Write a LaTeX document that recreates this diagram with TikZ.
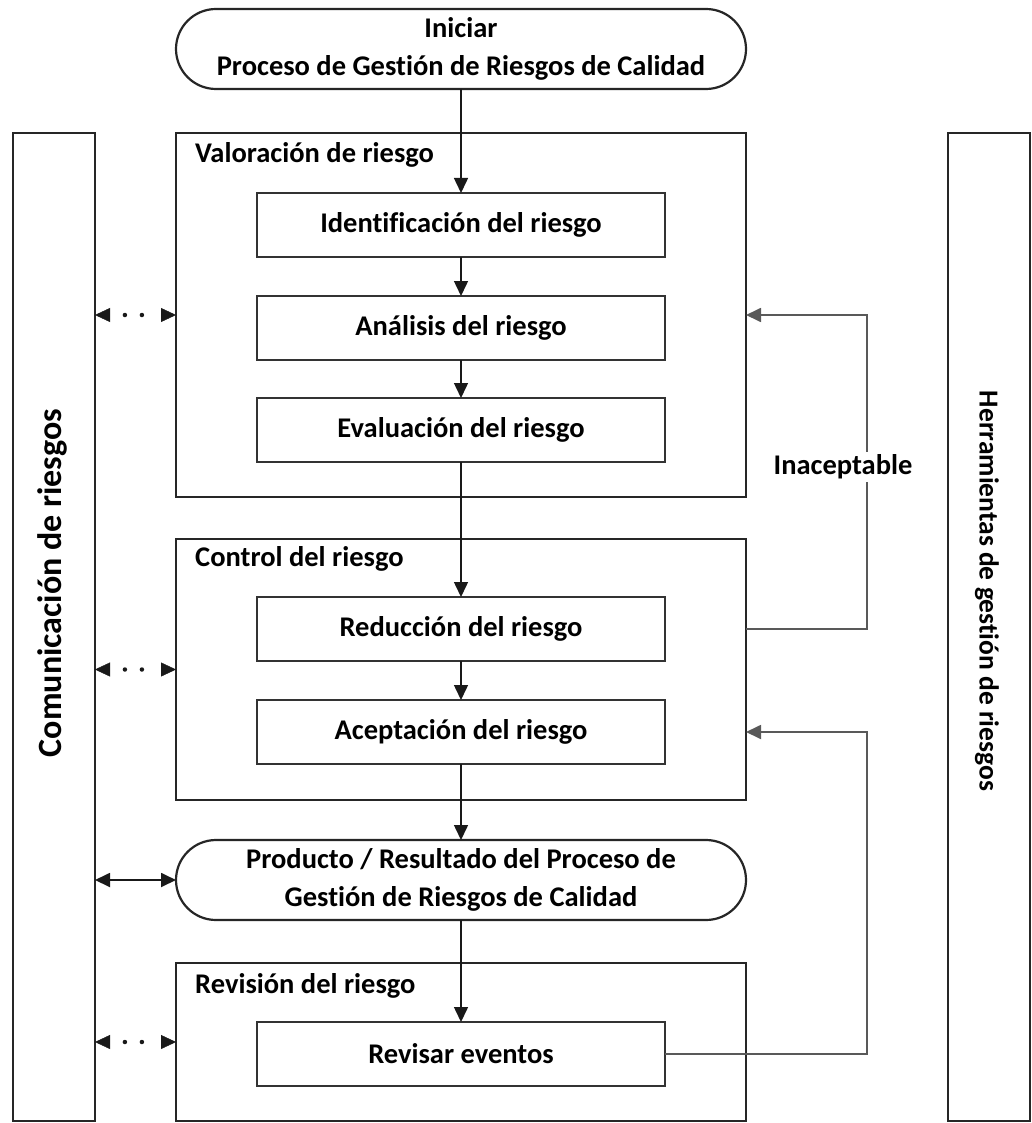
\documentclass[tikz,border=0pt]{standalone}
\usepackage{fontspec}
\setmainfont{Carlito}[Ligatures=NoCommon]
\usetikzlibrary{arrows.meta,calc}
\begin{document}
\begin{tikzpicture}[x=1pt,y=-1pt,
  txt/.style={font=\fontsize{28.5}{38}\selectfont\bfseries, inner sep=0pt},
  panel/.style={draw=black!85, line width=2.2pt, fill=white, inner sep=0pt, outer sep=0pt, minimum width=82pt, minimum height=988pt},
  bigbox/.style={draw=black!85, line width=2.2pt, fill=white, inner sep=0pt, outer sep=0pt, minimum width=570pt},
  term/.style={draw=black!85, line width=2.2pt, fill=white, rounded corners=40pt, minimum width=570pt, minimum height=80pt, align=center, outer sep=0pt, txt},
  stepbox/.style={draw=black!80, line width=1.6pt, fill=white, minimum width=408pt, minimum height=64pt, outer sep=0pt, txt},
  boxlabel/.style={txt, anchor=base west},
  arr/.style={draw=black!90, line width=1.5pt, -{Triangle[length=15pt,width=14pt]}},
  darr/.style={draw=black!90, line width=1.8pt, {Triangle[length=15pt,width=14pt]}-{Triangle[length=15pt,width=14pt]}},
  dotarr/.style={draw=black!90, line width=4.5pt, line cap=round, dash pattern=on 0pt off 17pt on 0pt off 40pt, dash phase=42pt, {Triangle[length=15pt,width=14pt,line width=0.4pt]}-{Triangle[length=15pt,width=14pt,line width=0.4pt]}},
  looparr/.style={draw=black!65, line width=1.8pt, -{Triangle[length=15pt,width=14pt]}}
]
\useasboundingbox (0,0) rectangle (1032,1123);

% side panels
\node[panel] (comm) at (54,627) {};
\node[txt, font=\fontsize{34}{40}\selectfont\bfseries, rotate=90] (commtxt) at (52,583) {Comunicación de riesgos};
\node[panel] (tools) at (989,627) {};
\node[txt, font=\fontsize{27.5}{34}\selectfont\bfseries, rotate=-90] (toolstxt) at (987,591) {Herramientas de gestión de riesgos};

% start terminal
\node[term] (start) at (461,49) {Iniciar\\Proceso de Gestión de Riesgos de Calidad};

% risk assessment
\node[bigbox, minimum height=364pt] (val) at (461,315) {};
\node[boxlabel] (vallbl) at (195,163) {Valoración de riesgo};
\node[stepbox] (ide) at (461,225) {Identificación del riesgo};
\node[stepbox] (ana) at (461,328) {Análisis del riesgo};
\node[stepbox] (eva) at (461,430) {Evaluación del riesgo};

% risk control
\node[bigbox, minimum height=261pt] (ctl) at (461,669.5) {};
\node[boxlabel] (ctllbl) at (195,566) {Control del riesgo};
\node[stepbox] (red) at (461,629) {Reducción del riesgo};
\node[stepbox] (acc) at (461,732) {Aceptación del riesgo};

% output
\node[term] (prod) at (461,880) {Producto / Resultado del Proceso de\\Gestión de Riesgos de Calidad};

% risk review
\node[bigbox, minimum height=158pt] (rev) at (461,1042) {};
\node[boxlabel] (revlbl) at (195,993) {Revisión del riesgo};
\node[stepbox] (evt) at (461,1054) {Revisar eventos};

% main flow
\draw[arr] (start) -- (ide);
\draw[arr] (ide) -- (ana);
\draw[arr] (ana) -- (eva);
\draw[arr] (eva) -- (red);
\draw[arr] (red) -- (acc);
\draw[arr] (acc) -- (prod);
\draw[arr] (prod) -- (evt);

% communication
\draw[dotarr] (comm.east |- val.west) -- (val.west);
\draw[dotarr] (comm.east |- ctl.west) -- (ctl.west);
\draw[darr] (comm.east |- prod.west) -- (prod.west);
\draw[dotarr] (comm.east |- rev.west) -- (rev.west);

% loops
\coordinate (lx) at (867,0);
\draw[looparr] (red.east -| ctl.east) -| (lx |- val.east) -- (val.east);
\draw[looparr] (evt.east) -| (lx |- acc.east) -- (acc.east -| ctl.east);
\node[txt, fill=white, inner sep=3pt] (inac) at (843,467) {Inaceptable};
\end{tikzpicture}
\end{document}
